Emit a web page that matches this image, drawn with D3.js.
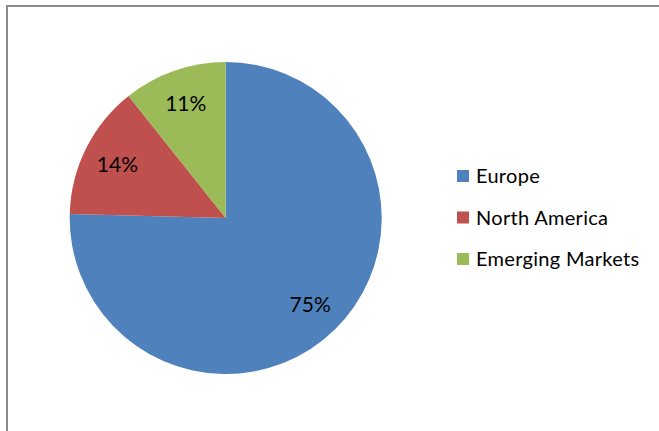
<!DOCTYPE html>
<html>
<head>
<meta charset="utf-8">
<script src="https://cdn.jsdelivr.net/npm/d3@7"></script>
<style>
  html, body { margin: 0; padding: 0; background: #fff; }
  svg { display: block; font-family: Lato, "Noto Sans", sans-serif; }
</style>
</head>
<body>
<svg id="chart" width="659" height="431"></svg>
<script>
// Regional revenue split
const regions = ["Europe", "North America", "Emerging Markets"];
const shares = [75.4, 13.9, 10.7];
const colors = ["#4F81BD", "#C0504D", "#9BBB59"];

const svg = d3.select("#chart");
const W = 659, H = 431;

// chart area frame (runs off the right and bottom edges)
svg.append("rect")
  .attr("x", 7).attr("y", 6)
  .attr("width", W + 20).attr("height", H + 20)
  .attr("fill", "none")
  .attr("stroke", "#898989")
  .attr("stroke-width", 2);

const cx = 225.7, cy = 218, radius = 156;
const total = d3.sum(shares);

const pie = d3.pie().sort(null).value(d => d.value).startAngle(0).endAngle(2 * Math.PI);
const data = pie(regions.map((r, i) => ({ region: r, value: shares[i], color: colors[i] })));

const arc = d3.arc().innerRadius(0).outerRadius(radius);
const labelArc = d3.arc().innerRadius(121).outerRadius(121);

const g = svg.append("g").attr("transform", `translate(${cx},${cy})`);

g.selectAll("path.slice")
  .data(data)
  .join("path")
  .attr("class", "slice")
  .attr("d", arc)
  .attr("fill", d => d.data.color);

g.selectAll("text.pct")
  .data(data)
  .join("text")
  .attr("class", "pct")
  .attr("transform", d => `translate(${labelArc.centroid(d)})`)
  .attr("text-anchor", "middle")
  .attr("dy", "0.36em")
  .attr("font-size", 21)
  .attr("fill", "#000")
  .text(d => Math.round(d.data.value / total * 100) + "%");

// legend
const legend = svg.append("g").attr("transform", "translate(457,176)");
const rowH = 41.5;
const item = legend.selectAll("g.item")
  .data(regions)
  .join("g")
  .attr("class", "item")
  .attr("transform", (d, i) => `translate(0,${i * rowH})`);

item.append("rect")
  .attr("x", 0).attr("y", -6)
  .attr("width", 12).attr("height", 12)
  .attr("fill", (d, i) => colors[i]);

item.append("text")
  .attr("x", 19)
  .attr("dy", "0.36em")
  .attr("font-size", 20)
  .attr("letter-spacing", 0.3)
  .attr("fill", "#000")
  .text(d => d);
</script>
</body>
</html>
